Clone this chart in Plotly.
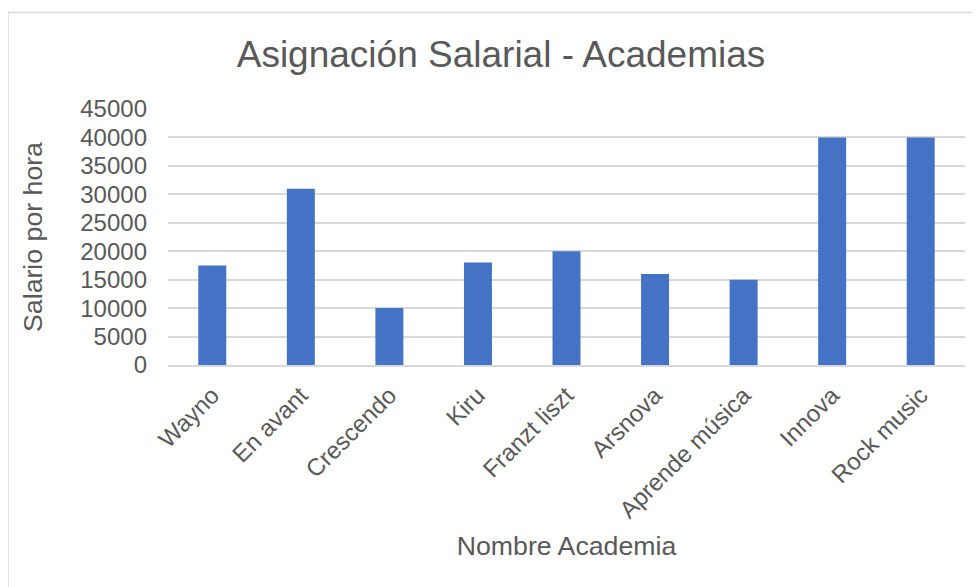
import plotly.graph_objects as go

academias = ["Wayno", "En avant", "Crescendo", "Kiru", "Franzt liszt",
             "Arsnova", "Aprende música", "Innova", "Rock music"]
salarios = [17500, 31000, 10000, 18000, 20000, 16000, 15000, 40000, 40000]
y_ticks = [0, 5000, 10000, 15000, 20000, 25000, 30000, 35000, 40000, 45000]
y_tick_labels = [str(v) for v in y_ticks]

FONT = "Liberation Sans, Arial, sans-serif"
TXT = "#595959"
GRID = "#d9d9d9"

fig = go.Figure(go.Bar(x=academias, y=salarios, marker=dict(color="#4472c4", line=dict(width=0))))

# page body has an 8px margin; figure is sized so it ends at the window edge
OFF = 8
W, H = 980 - OFF, 587 - OFF
L, R, T, B = 168 - OFF, 15, 109 - OFF, 222
pw, ph = W - L - R, H - T - B

def px2x(px):
    return (px - OFF - L) / pw

def py2y(py):
    return (H - B - (py - OFF)) / ph

fig.update_layout(
    width=W, height=H,
    margin=dict(l=L, r=R, t=T, b=B, autoexpand=False),
    paper_bgcolor="white", plot_bgcolor="white",
    bargap=0.684,
    showlegend=False,
    font=dict(family=FONT, color=TXT, size=24),
    title=dict(text="Asignación Salarial - Academias", x=(501 - OFF) / W, xref="container", xanchor="center",
               y=1 - (54 - OFF) / H, yref="container", yanchor="middle",
               font=dict(size=37, color=TXT, family=FONT)),
    xaxis=dict(
        tickangle=-45, tickfont=dict(size=24, color=TXT), showgrid=False,
        showline=True, linecolor=GRID, linewidth=1.5, ticks="", ticklabelstandoff=5,
        title=dict(text="Nombre Academia", font=dict(size=26.7, color=TXT), standoff=14),
    ),
    yaxis=dict(
        range=[0, 45000], tickvals=y_ticks, ticktext=y_tick_labels, tickfont=dict(size=24, color=TXT),
        showgrid=True, gridcolor=GRID, gridwidth=1.5, zeroline=False, showline=False,
        ticks="", ticklabelstandoff=20,
        title=dict(text="Salario por hora", font=dict(size=26.7, color=TXT), standoff=29),
    ),
    shapes=[dict(type="rect", xref="paper", yref="paper",
                 x0=px2x(8), x1=px2x(995), y0=py2y(600), y1=py2y(12.5),
                 line=dict(color=GRID, width=1.5), fillcolor="rgba(0,0,0,0)", layer="below")],
)

fig.write_html("out.html")
